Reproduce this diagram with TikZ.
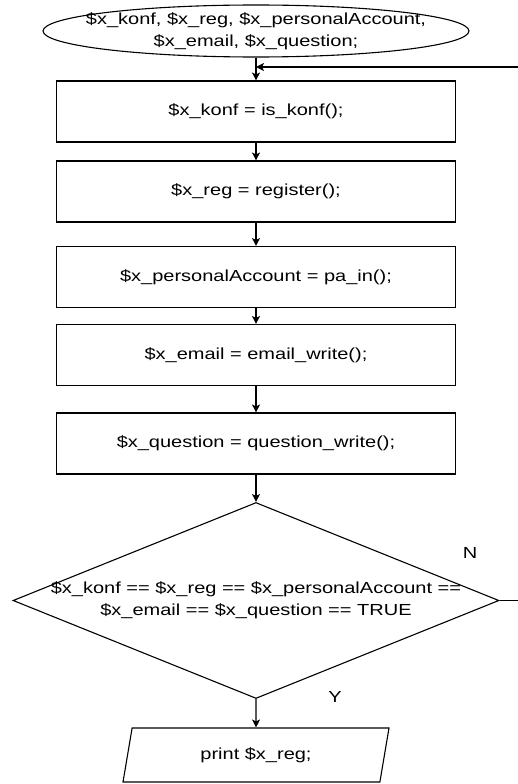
\documentclass[tikz,border=0pt]{standalone}
\usepackage{fontspec}
\setmainfont{Liberation Sans}[FakeStretch=1.25]
\usetikzlibrary{arrows.meta,shapes.geometric}

\begin{document}
\begin{tikzpicture}[
    x = 1pt,
    y = -1pt,
    >={Stealth[length=8pt,width=8pt,inset=2pt]},
    line width = 1.1pt,
    every node/.style = {font=\fontsize{16}{22}\selectfont},
    stepbox/.style = {
      draw,
      rectangle,
      minimum width = 399pt,
      minimum height = 61pt,
      inner sep = 0pt
    },
    startend/.style = {
      draw,
      ellipse,
      minimum width = 426pt,
      minimum height = 52pt,
      inner sep = 0pt
    },
    decision/.style = {
      draw,
      diamond,
      minimum width = 486pt,
      minimum height = 196pt,
      inner sep = 0pt
    },
    iobox/.style = {
      draw,
      trapezium,
      trapezium left angle = 59,
      trapezium right angle = 121,
      trapezium stretches body,
      minimum width = 266pt,
      minimum height = 54pt,
      inner sep = 0pt
    },
    txt/.style = {align = center, inner sep = 0pt}
  ]
  \clip (0,0) rectangle (518,784);
  % start: the variables
  \node[startend] (vars) at (256,31) {};
  \node[txt] (vars-t) at (vars)
    {\$x\_konf, \$x\_reg, \$x\_personalAccount,\\\$x\_email, \$x\_question;};
  \coordinate (join) at (256,67);

  \node[stepbox] (konf)  at (256,111.5) {\$x\_konf = is\_konf();};
  \node[stepbox] (reg)   at (256,191.5) {\$x\_reg = register();};
  \node[stepbox] (pa)    at (256,277)   {\$x\_personalAccount = pa\_in();};
  \node[stepbox] (email) at (256,355)   {\$x\_email = email\_write();};
  \node[stepbox] (quest) at (256,443.5) {\$x\_question = question\_write();};

  % check all
  \node[decision] (check) at (256,600.5) {};
  \node[txt] (check-t) at (check)
    {\$x\_konf == \$x\_reg == \$x\_personalAccount ==\\
     \$x\_email == \$x\_question == TRUE};

  \node[iobox] (out) at (256,755) {print \$x\_reg;};

  \draw[->] (vars)  -- (konf);
  \draw[->] (konf)  -- (reg);
  \draw[->] (reg)   -- (pa);
  \draw[->] (pa)    -- (email);
  \draw[->] (email) -- (quest);
  \draw[->] (quest) -- (check);
  \draw[->] (check) -- (out);
  \draw[->] (check.east) -- ++(40,0) |- (join);

  \node (no)  at (470,553) {N};
  \node (yes) at (335,697) {Y};
\end{tikzpicture}
\end{document}
